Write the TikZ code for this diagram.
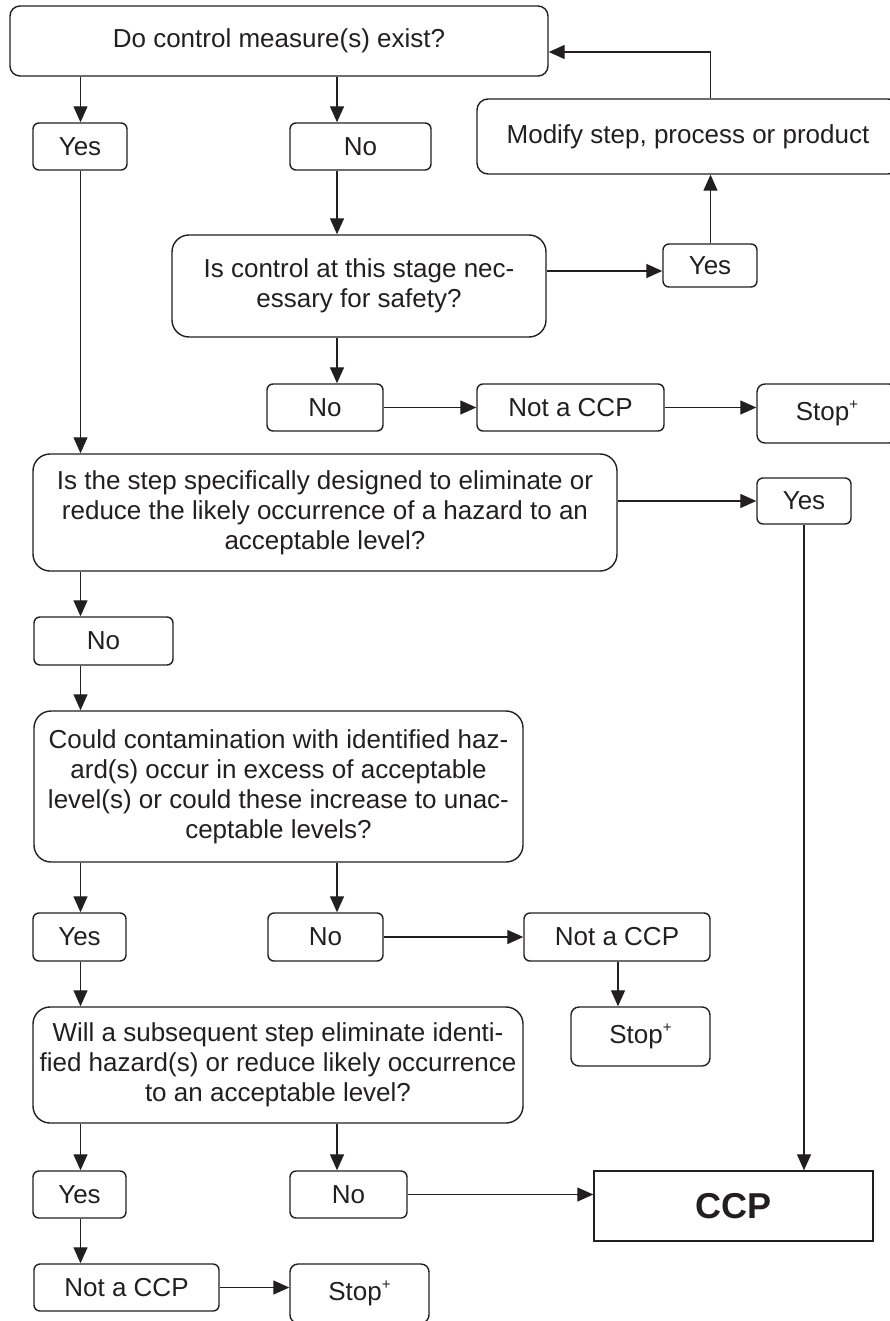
\documentclass[tikz,border=0pt]{standalone}
\usepackage{fontspec}
\setmainfont{Liberation Sans}
\usetikzlibrary{arrows.meta}
\definecolor{ink}{HTML}{231F20}
\newcommand{\stopplus}{Stop\raisebox{0.75ex}{\fontsize{15}{15}\selectfont +}}
\begin{document}
\begin{tikzpicture}[x=1pt,y=-1pt,
  every node/.style={font=\fontsize{26}{30}\selectfont, inner sep=0pt, align=center, text=ink},
  smallbox/.style={draw=ink, line width=1.4pt, rounded corners=6pt},
  bigbox/.style={draw=ink, line width=1.4pt, rounded corners=17pt},
  arr/.style={draw=ink, line width=1.3pt, -{Triangle[length=16pt,width=14pt]}},
  plainline/.style={line width=1.3pt}]
\useasboundingbox (0,0) rectangle (889,1321);
% lanes
\coordinate (colA) at (80.5,0);
\coordinate (colB) at (337,0);
\coordinate (colC) at (710.5,0);
\coordinate (colD) at (804,0);
\coordinate (colE) at (618,0);
\coordinate (row52) at (0,52);
\coordinate (row271) at (0,271);
\coordinate (row501) at (0,501);
% nodes
\node[smallbox, rounded corners=10pt, minimum width=538, minimum height=70] (top) at (279,41) {Do control measure(s) exist?};
\node[smallbox, minimum width=94, minimum height=47] (yes1) at (80,146.5) {Yes};
\node[smallbox, minimum width=141, minimum height=47] (no1) at (360.5,146.5) {No};
\node[smallbox, rounded corners=11pt, minimum width=422, minimum height=75] (modify) at (688,136.5) {Modify step, process or product};
\node[bigbox, minimum width=374, minimum height=102] (iscontrol) at (359,286) {Is control at this stage nec-\\essary for safety?};
\node[smallbox, minimum width=94, minimum height=43] (yes2) at (710,265.5) {Yes};
\node[smallbox, minimum width=116, minimum height=47] (no3) at (325,407.5) {No};
\node[smallbox, minimum width=187, minimum height=47] (notccp1) at (570.5,407.5) {Not a CCP};
\node[smallbox, rounded corners=8pt, minimum width=140, minimum height=59] (stop1) at (827,413.5) {\stopplus};
\node[bigbox, minimum width=584, minimum height=117] (isstep) at (325,512.5) {Is the step specifically designed to eliminate or\\reduce the likely occurrence of a hazard to an\\acceptable level?};
\node[smallbox, minimum width=94, minimum height=46] (yes3) at (804,501) {Yes};
\node[smallbox, minimum width=139, minimum height=48] (no2) at (103.5,641) {No};
\node[bigbox, minimum width=489, minimum height=151] (could) at (278.5,786.5) {Could contamination with identified haz-\\ard(s) occur in excess of acceptable\\level(s) or could these increase to unac-\\ceptable levels?};
\node[smallbox, minimum width=93, minimum height=48] (yes4) at (79.5,937) {Yes};
\node[smallbox, minimum width=115, minimum height=48] (no4) at (325.5,937) {No};
\node[smallbox, minimum width=186, minimum height=48] (notccp2) at (617,937) {Not a CCP};
\node[smallbox, rounded corners=8pt, minimum width=139, minimum height=59] (stop2) at (640.5,1036.5) {\stopplus};
\node[bigbox, minimum width=490, minimum height=116] (will) at (278,1065) {Will a subsequent step eliminate identi-\\fied hazard(s) or reduce likely occurrence\\to an acceptable level?};
\node[smallbox, minimum width=93, minimum height=47] (yes5) at (79.5,1194.5) {Yes};
\node[smallbox, minimum width=117, minimum height=47] (no5) at (348.5,1194.5) {No};
\node[draw=ink, line width=1.4pt, minimum width=279, minimum height=70, font=\fontsize{36}{40}\selectfont\bfseries] (ccp) at (733.5,1206) {CCP};
\node[smallbox, minimum width=185, minimum height=47] (notccp3) at (126.5,1287.5) {Not a CCP};
\node[smallbox, rounded corners=8pt, minimum width=139, minimum height=59] (stop3) at (359.5,1293.5) {\stopplus};
% connectors
\draw[arr] (top.south -| colA) -- (yes1.north -| colA);
\draw[arr] (top.south -| colB) -- (no1.north -| colB);
\draw[arr] (yes1.south -| colA) -- (isstep.north -| colA);
\draw[arr] (no1.south -| colB) -- (iscontrol.north -| colB);
\draw[arr] (iscontrol.east |- row271) -- (yes2.west |- row271);
\draw[arr] (yes2.north -| colC) -- (modify.south -| colC);
\draw[arr] (modify.north -| colC) |- (top.east |- row52);
\draw[arr] (iscontrol.south -| colB) -- (no3.north -| colB);
\draw[arr] (no3.east) -- (notccp1.west);
\draw[arr] (notccp1.east) -- (stop1.west |- notccp1.east);
\draw[arr] (isstep.east |- row501) -- (yes3.west |- row501);
\draw[arr] (yes3.south -| colD) -- (ccp.north -| colD);
\draw[arr] (isstep.south -| colA) -- (no2.north -| colA);
\draw[arr] (no2.south -| colA) -- (could.north -| colA);
\draw[arr] (could.south -| colA) -- (yes4.north -| colA);
\draw[arr] (could.south -| colB) -- (no4.north -| colB);
\draw[arr] (no4.east) -- (notccp2.west);
\draw[arr] (notccp2.south -| colE) -- (stop2.north -| colE);
\draw[arr] (yes4.south -| colA) -- (will.north -| colA);
\draw[arr] (will.south -| colA) -- (yes5.north -| colA);
\draw[arr] (will.south -| colB) -- (no5.north -| colB);
\draw[arr] (no5.east) -- (ccp.west |- no5.east);
\draw[arr] (yes5.south -| colA) -- (notccp3.north -| colA);
\draw[arr] (notccp3.east) -- (stop3.west |- notccp3.east);
\end{tikzpicture}
\end{document}
